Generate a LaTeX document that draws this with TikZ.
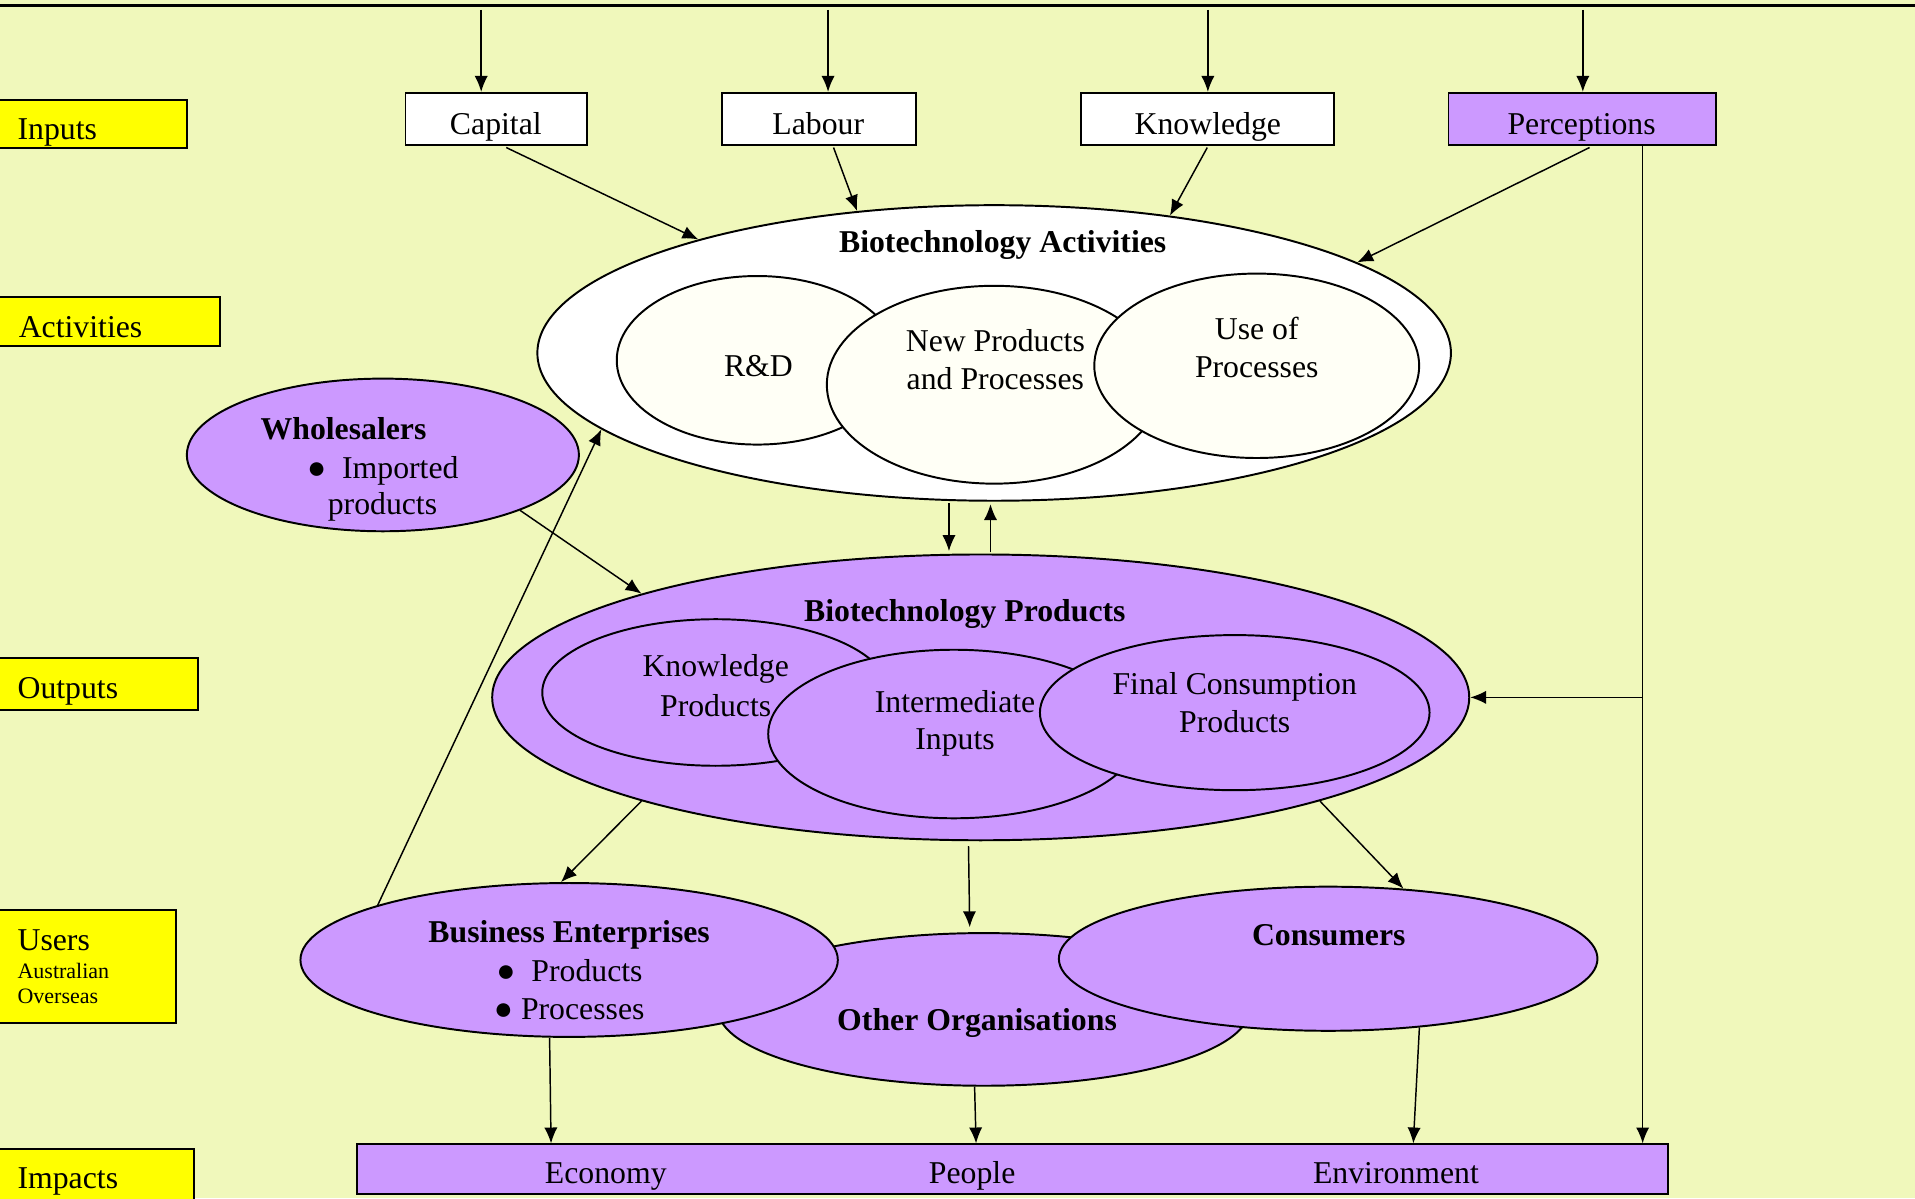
\documentclass[tikz,border=0pt]{standalone}
\usepackage{fontspec}
\setmainfont{Liberation Serif}
\usetikzlibrary{arrows.meta,shapes.geometric,calc}

\definecolor{bgcol}{HTML}{F0F8BB}
\definecolor{lilac}{HTML}{CC99FF}
\definecolor{ivory}{HTML}{FFFFF6}
\definecolor{tagcol}{HTML}{FFFF00}

\begin{document}
\begin{tikzpicture}[x=0.5pt,y=-0.5pt,
    font=\fontsize{13}{15.5}\selectfont,
    arr/.style={-{Latex[length=6.5pt,width=5.4pt]},line width=0.6pt},
    oval/.style={ellipse,draw,line width=0.8pt,inner sep=0pt},
    inbox/.style={rectangle,draw,line width=0.8pt,fill=white,minimum height=21.5pt,inner sep=0pt},
    tagbox/.style={rectangle,draw,line width=0.8pt,fill=tagcol,inner sep=0pt},
    txt/.style={anchor=base,inner sep=0pt},
    ltxt/.style={anchor=base west,inner sep=0pt},
    bold/.style={font=\fontsize{13}{15.5}\selectfont\bfseries},
    small/.style={font=\fontsize{9}{11}\selectfont}]

\useasboundingbox (0,0) rectangle (1568,981);
\fill[bgcol] (0,0) rectangle (1568,981);
\clip (0,0) rectangle (1568,981);

% ===== Top rule =====
\draw[line width=1.2pt] (0,4.5) -- (1568,4.5);

% ===== Row tags =====
\node[tagbox,minimum width=79pt,minimum height=19.5pt] (tinputs) at (74,101.5) {};
\node[tagbox,minimum width=92.5pt,minimum height=20pt] (tactiv) at (87.5,263) {};
\node[tagbox,minimum width=83.5pt,minimum height=21pt] (toutputs) at (78.5,560) {};
\node[tagbox,minimum width=74.5pt,minimum height=46.5pt] (tusers) at (69.5,791.5) {};
\node[tagbox,minimum width=82pt,minimum height=27pt] (timpacts) at (77,968) {};

\node[ltxt] (linputs) at (14,114.5) {Inputs};
\node[ltxt] (lactiv) at (15,276) {Activities};
\node[ltxt] (loutputs) at (14,572) {Outputs};
\node[ltxt] (lusers) at (14,778) {Users};
\node[ltxt,small] (laus) at (14,801) {Australian};
\node[ltxt,small] (lover) at (14,822) {Overseas};
\node[ltxt] (limpacts) at (14,973) {Impacts};

% ===== Inputs =====
\node[inbox,minimum width=74.5pt] (capital) at (406.5,97.5) {};
\node[inbox,minimum width=79.5pt] (labour) at (670.5,97.5) {};
\node[inbox,minimum width=103.5pt] (know) at (988.5,97.5) {};
\node[inbox,minimum width=109.5pt,fill=lilac] (percep) at (1295.5,97.5) {};

\node[txt] (captxt) at (406,110) {Capital};
\node[txt] (labtxt) at (670,110) {Labour};
\node[txt] (knowtxt) at (989,110) {Knowledge};
\node[txt] (perctxt) at (1295,110) {Perceptions};

\coordinate (capin) at (394,8);
\coordinate (labin) at (678,8);
\coordinate (knowin) at (989,8);
\coordinate (percin) at (1296,8);

% ===== Activities =====
\node[oval,fill=white,minimum width=374pt,minimum height=121pt] (act) at (814,289) {};
\node[oval,fill=ivory,minimum width=115pt,minimum height=69pt] (rd) at (620,295) {};
\node[oval,fill=ivory,minimum width=137pt,minimum height=81pt] (newp) at (814,315) {};
\node[oval,fill=ivory,minimum width=133pt,minimum height=75.5pt] (usep) at (1029,299.5) {};

\node[txt,bold] (acttitle) at (821,206.5) {Biotechnology Activities};
\node[txt] (rdtxt) at (621,308) {R\&D};
\node[txt] (newp1) at (815,288) {New Products};
\node[txt] (newp2) at (815,319) {and Processes};
\node[txt] (usep1) at (1029,278) {Use of};
\node[txt] (usep2) at (1029,309) {Processes};

% ===== Wholesalers =====
\node[oval,fill=lilac,minimum width=160.5pt,minimum height=62.5pt] (whole) at (313.5,372.5) {};
\node[ltxt,bold] (whole1) at (213,360) {Wholesalers};
\node[ltxt] (whole2) at (251,391.5) {●\ \ Imported};
\node[ltxt] (whole3) at (268,421.5) {products};

% ===== Products =====
\node[oval,fill=lilac,minimum width=400pt,minimum height=117pt] (prod) at (803,571) {};
\node[oval,fill=lilac,minimum width=142pt,minimum height=60pt] (knowp) at (586,567) {};
\node[oval,fill=lilac,minimum width=152pt,minimum height=69pt] (intp) at (781,601) {};
\node[oval,fill=lilac,minimum width=159.5pt,minimum height=63.5pt] (finp) at (1011,583.5) {};

\node[txt,bold] (prodtitle) at (790,509) {Biotechnology Products};
\node[txt] (knowp1) at (586,554) {Knowledge};
\node[txt] (knowp2) at (586,587) {Products};
\node[txt] (intp1) at (782,583) {Intermediate};
\node[txt] (intp2) at (782,614) {Inputs};
\node[txt] (finp1) at (1011,569) {Final Consumption};
\node[txt] (finp2) at (1011,600) {Products};

\coordinate (pjoin) at (1345,571);

% ===== Users =====
\node[oval,fill=lilac,minimum width=217.5pt,minimum height=62.5pt] (other) at (805.5,826.5) {};
\node[oval,fill=lilac,minimum width=220pt,minimum height=63pt] (bus) at (466,786) {};
\node[oval,fill=lilac,minimum width=220.5pt,minimum height=59pt] (cons) at (1087.5,785) {};

\node[txt,bold] (othertxt) at (800,843.5) {Other Organisations};
\node[txt,bold] (bus1) at (466,772) {Business Enterprises};
\node[ltxt] (bus2) at (406,804) {●\ \ Products};
\node[ltxt] (bus3) at (404,835) {●\ Processes};
\node[txt,bold] (constxt) at (1088,774) {Consumers};

% ===== Impacts =====
\node[rectangle,draw,line width=0.8pt,fill=lilac,minimum width=537pt,minimum height=20.5pt,inner sep=0pt] (impacts) at (829,957.5) {};
\node[txt] (econ) at (496,969) {Economy};
\node[txt] (people) at (796,969) {People};
\node[txt] (env) at (1143,969) {Environment};

% ===== Connectors =====
\draw[arr] (capin) -- (capin |- capital.north);
\draw[arr] (labin) -- (labin |- labour.north);
\draw[arr] (knowin) -- (knowin |- know.north);
\draw[arr] (percin) -- (percin |- percep.north);

\draw[arr] ($(capital.south)+(8,1)$) -- (act.159);
\draw[arr] ($(labour.south)+(12,1)$) -- (act.134);
\draw[arr] ($(know.south)+(0,1)$) -- (act.38);
\draw[arr] ($(percep.south)+(6,1)$) -- (act.14);

\draw[arr] ($(act.south)+(-37,1)$) -- ($(prod.north)+(-26,-2)$);
\draw[arr] ($(prod.north)+(8,-1)$) -- ($(act.south)+(-3,2)$);

\draw[arr] (whole.-22) -- (prod.163.4);
\draw[arr] (bus.164) -- (act.-169.7);

\draw[arr] (percep.south -| pjoin) -- (pjoin |- impacts.north);
\draw[arr] (pjoin) -- (prod.east);

\draw[arr] (prod.-163) -- (bus.96);
\draw[arr] ($(prod.south)+(-10,4)$) -- ($(other.north)+(-11.5,-4)$);
\draw[arr] (prod.-17.5) -- (cons.43);

\draw[arr] ($(bus.south)+(-16,0)$) -- ($(impacts.north west)+(160,0)$);
\draw[arr] ($(other.south)+(-7.5,0)$) -- ($(impacts.north west)+(508,0)$);
\draw[arr] (cons.-37) -- ($(impacts.north west)+(866,0)$);

\end{tikzpicture}
\end{document}
